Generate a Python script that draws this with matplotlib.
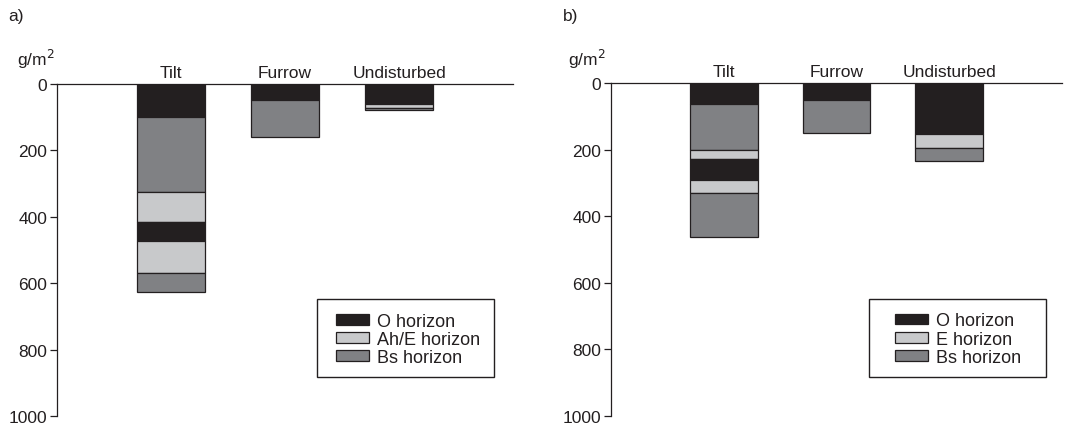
import matplotlib
matplotlib.use("Agg")
import matplotlib.pyplot as plt
from matplotlib.patches import Patch, Rectangle

plt.rcParams['font.family'] = ['Liberation Sans', 'DejaVu Sans']

categories = ["Tilt", "Furrow", "Undisturbed"]
yticks = [0, 200, 400, 600, 800, 1000]

# Panel a: layered segments (top to bottom) per site
a_tilt_types = ["O", "Bs", "E", "O", "E", "Bs"]
a_tilt_vals = [100, 225, 92, 55, 96, 60]
a_furrow_types = ["O", "Bs"]
a_furrow_vals = [47, 112]
a_undist_types = ["O", "E", "Bs"]
a_undist_vals = [60, 12, 6]

# Panel b
b_tilt_types = ["O", "Bs", "E", "O", "E", "Bs"]
b_tilt_vals = [63, 138, 27, 64, 37, 132]
b_furrow_types = ["O", "Bs"]
b_furrow_vals = [50, 101]
b_undist_types = ["O", "E", "Bs"]
b_undist_vals = [153, 43, 37]

a_legend = ["O horizon", "Ah/E horizon", "Bs horizon"]
b_legend = ["O horizon", "E horizon", "Bs horizon"]

colors = {"O": "#231f20", "E": "#c8c9cb", "Bs": "#808184"}
edge = "#231f20"
FS = 12.5
LFS = 13

fig = plt.figure(figsize=(10.72, 4.27), dpi=100)
W, H = 1072, 427


def panel(rect, stacks, legend_labels, frame_box, leg_anchor):
    ax = fig.add_axes(rect)
    for i, (types, vals) in enumerate(stacks):
        bottom = 0
        for t, v in zip(types, vals):
            ax.bar(i + 1, v, bottom=bottom, width=0.6, color=colors[t],
                   edgecolor=edge, linewidth=0.9, zorder=2)
            bottom += v
    ax.set_xlim(0, 4)
    ax.set_ylim(1000, 0)
    ax.set_yticks(yticks)
    ax.set_xticks([1, 2, 3])
    ax.set_xticklabels(categories)
    ax.xaxis.tick_top()
    ax.tick_params(axis='x', length=0, pad=3, labelsize=FS, labelcolor="#231f20")
    ax.tick_params(axis='y', length=5, width=0.9, pad=2, labelsize=FS,
                   color=edge, labelcolor="#231f20")
    for s in ["right", "bottom"]:
        ax.spines[s].set_visible(False)
    for s in ["left", "top"]:
        ax.spines[s].set_color(edge)
        ax.spines[s].set_linewidth(0.9)
    handles = [Patch(facecolor=colors[k], edgecolor=edge, linewidth=0.9)
               for k in ["O", "E", "Bs"]]
    x0, y0, x1, y1 = frame_box
    ax.add_patch(Rectangle((x0, y0), x1 - x0, y1 - y0, transform=ax.transAxes,
                           facecolor="white", edgecolor=edge, linewidth=1.0,
                           zorder=4, clip_on=False))
    leg = ax.legend(handles, legend_labels, loc="upper left",
                    bbox_to_anchor=leg_anchor, borderaxespad=0, frameon=False,
                    fontsize=LFS, handlelength=1.8, handleheight=0.55,
                    handletextpad=0.45, labelspacing=0.07, borderpad=0)
    leg.set_zorder(5)
    for txt in leg.get_texts():
        txt.set_color("#231f20")
    return ax


ax_a = panel([57 / W, 1 - 417 / H, 456 / W, 332 / H],
             [(a_tilt_types, a_tilt_vals), (a_furrow_types, a_furrow_vals),
              (a_undist_types, a_undist_vals)],
             a_legend, (0.570, 0.1175, 0.958, 0.3524), (0.612, 0.311))
ax_b = panel([611 / W, 1 - 417 / H, 451 / W, 333 / H],
             [(b_tilt_types, b_tilt_vals), (b_furrow_types, b_furrow_vals),
              (b_undist_types, b_undist_vals)],
             b_legend, (0.572, 0.1175, 0.9645, 0.3524), (0.630, 0.311))

fig.text(36 / W, 1 - 59 / H, "g/m$^2$", ha="center", va="center", fontsize=FS, color="#231f20")
fig.text(587 / W, 1 - 59 / H, "g/m$^2$", ha="center", va="center", fontsize=FS, color="#231f20")
fig.text(8 / W, 1 - 17 / H, "a)", ha="left", va="center", fontsize=FS, color="#231f20")
fig.text(563 / W, 1 - 17 / H, "b)", ha="left", va="center", fontsize=FS, color="#231f20")

fig.savefig("out.png", dpi=100)
